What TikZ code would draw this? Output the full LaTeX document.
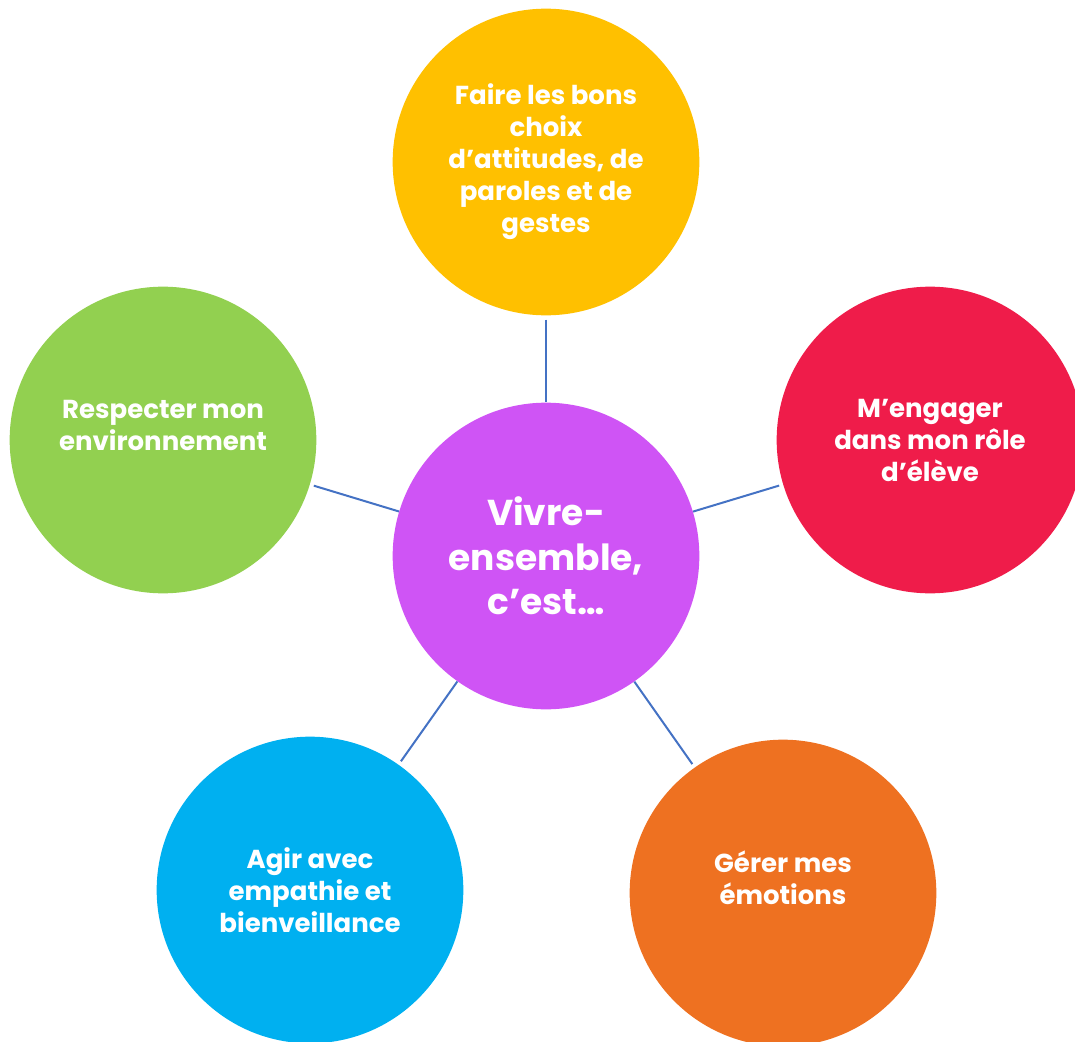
\documentclass[tikz,border=0pt]{standalone}
\usepackage{fontspec}
\setmainfont{Poppins}
\definecolor{jaune}{HTML}{FFC000}
\definecolor{rouge}{HTML}{EF1C4A}
\definecolor{vert}{HTML}{92D050}
\definecolor{bleu}{HTML}{00B0F0}
\definecolor{orange}{HTML}{EE7121}
\definecolor{violet}{HTML}{CF54F5}
\definecolor{trait}{HTML}{4472C4}
\begin{document}
\begin{tikzpicture}[x=0.75pt,y=-0.75pt,
	bulle/.style={circle,minimum size=230pt,inner sep=0pt,draw=none},
	texte/.style={align=center,text=white,font=\bfseries\fontsize{19.5pt}{24pt}\selectfont},
	lien/.style={draw=trait,line width=1.5pt,shorten <=3pt}]
\useasboundingbox (0,0) rectangle (1075,1042);
% cercles
\node[bulle,fill=violet] (centre) at (546,556) {};
\node[bulle,fill=jaune] (choix) at (546,162) {};
\node[bulle,fill=rouge] (role) at (930,440) {};
\node[bulle,fill=vert] (env) at (163,440) {};
\node[bulle,fill=bleu] (empathie) at (310,890) {};
\node[bulle,fill=orange] (emotions) at (783,893) {};
% liens
\draw[lien] (choix) -- (centre);
\draw[lien] (role) -- (centre);
\draw[lien] (env) -- (centre);
\draw[lien] (empathie) -- (centre);
\draw[lien] (emotions) -- (centre);
% textes
\node[texte,font=\bfseries\fontsize{27pt}{33.5pt}\selectfont] (tcentre) at (centre) {Vivre-\\ensemble,\\c’est…};
\node[texte] (tchoix) at (choix) {Faire les bons\\choix\\d’attitudes, de\\paroles et de\\gestes};
\node[texte] (trole) at (role) {M’engager\\dans mon rôle\\d’élève};
\node[texte] (tenv) at (163,425) {Respecter mon\\environnement};
\node[texte] (tempathie) at (empathie) {Agir avec\\empathie et\\bienveillance};
\node[texte] (temotions) at (783,878) {Gérer mes\\émotions};
\end{tikzpicture}
\end{document}
